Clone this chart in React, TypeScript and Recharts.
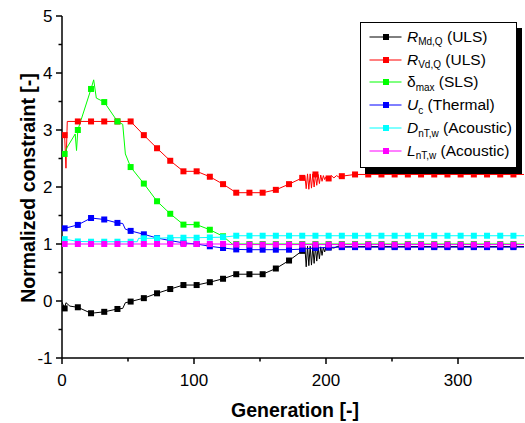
import { Legend, Line, LineChart, XAxis, YAxis } from 'recharts';

const FONT = 'Arial, "Liberation Sans", Helvetica, sans-serif';

// generations carrying a plotted marker (every 10th)
const markGens = [
  2, 12, 22, 32, 42, 52, 62, 72, 82, 92, 102, 112, 122, 132, 142, 152, 162, 172,
  182, 192, 202, 212, 222, 232, 242, 252, 262, 272, 282, 292, 302, 312, 322, 332, 342,
];

const rMdQ = [
  -0.13, -0.11, -0.215, -0.19, -0.14, -0.01, 0.05, 0.135, 0.21, 0.28, 0.28, 0.33, 0.39, 0.47, 0.47, 0.47, 0.57, 0.71,
  0.88, 0.95, 0.94, 0.95, 0.955, 0.955, 0.955, 0.955, 0.955, 0.955, 0.955, 0.955, 0.955, 0.955, 0.955, 0.955, 0.955,
];
const rVdQ = [
  2.91, 3.15, 3.15, 3.15, 3.15, 3.15, 2.91, 2.68, 2.46, 2.275, 2.275, 2.18, 2.05, 1.9, 1.9, 1.9, 1.95, 2.05,
  2.16, 2.22, 2.15, 2.19, 2.22, 2.22, 2.22, 2.22, 2.22, 2.22, 2.22, 2.22, 2.22, 2.22, 2.22, 2.22, 2.22,
];
const deltaMax = [
  2.58, 3.0, 3.72, 3.49, 3.15, 2.35, 2.06, 1.75, 1.53, 1.34, 1.34, 1.25, 1.135, 1.0, 1.0, 1.0, 1.0, 1.0,
  1.0, 1.0, 1.0, 1.0, 1.0, 1.0, 1.0, 1.0, 1.0, 1.0, 1.0, 1.0, 1.0, 1.0, 1.0, 1.0, 1.0,
];
const uC = [
  1.275, 1.335, 1.456, 1.43, 1.37, 1.23, 1.17, 1.105, 1.06, 1.02, 1.0, 0.96, 0.93, 0.905, 0.9, 0.9, 0.9, 0.9,
  0.91, 0.93, 0.94, 0.945, 0.945, 0.945, 0.945, 0.945, 0.945, 0.945, 0.945, 0.945, 0.945, 0.945, 0.945, 0.945, 0.945,
];
const dnTw = [
  1.085, 1.045, 1.04, 1.04, 1.04, 1.04, 1.1, 1.1, 1.11, 1.11, 1.11, 1.115, 1.12, 1.145, 1.145, 1.145, 1.145, 1.145,
  1.145, 1.145, 1.145, 1.145, 1.145, 1.145, 1.145, 1.145, 1.145, 1.145, 1.145, 1.145, 1.145, 1.145, 1.145, 1.145, 1.145,
];
const lnTw = [
  1.0, 1.0, 1.0, 1.0, 1.0, 1.0, 1.0, 1.0, 1.0, 1.0, 1.0, 1.0, 1.0, 0.99, 0.99, 0.99, 0.99, 0.99,
  0.99, 0.99, 0.99, 0.99, 0.99, 0.99, 0.99, 0.99, 0.99, 0.99, 0.99, 0.99, 0.99, 0.99, 0.99, 0.99, 0.99,
];

// in-between generations (no marker): start-up jumps and the oscillation near gen 185-200
const rMdQExtra: [number, number][] = [
  [0, -0.02], [3, -0.03], [6, -0.09], [46, -0.13], [48, -0.03],
  [184, 0.95], [185, 0.6], [186, 0.96], [187, 0.62], [188, 0.96], [189, 0.63], [190, 0.95], [191, 0.66],
  [193, 0.7], [194, 0.95], [195, 0.74], [196, 0.95], [197, 0.8], [198, 0.94], [199, 0.86], [200, 0.95],
  [206, 0.93], [209, 0.96], [350, 0.955],
];
const rVdQExtra: [number, number][] = [
  [0, 2.9], [3, 2.33], [4, 3.15],
  [184, 2.2], [185, 1.97], [186, 2.23], [187, 1.96], [188, 2.23], [189, 1.98], [190, 2.23], [191, 2.0],
  [193, 2.03], [194, 2.22], [195, 2.06], [196, 2.21], [197, 2.1], [198, 2.2], [199, 2.13], [200, 2.18],
  [204, 2.2], [206, 2.16], [208, 2.2], [210, 2.17], [350, 2.22],
];
const deltaMaxExtra: [number, number][] = [
  [0, 2.6], [4, 2.7], [10, 2.93], [11, 2.64], [24, 3.88], [26, 3.56], [46, 3.1], [48, 2.58], [129, 1.0], [350, 1.0],
];
const uCExtra: [number, number][] = [[0, 1.27], [46, 1.36], [48, 1.26], [350, 0.945]];
const dnTwExtra: [number, number][] = [[0, 1.09], [57, 1.04], [58, 1.1], [350, 1.145]];
const lnTwExtra: [number, number][] = [[0, 1.0], [350, 0.99]];

const yTicks = [-1, -0.5, 0, 0.5, 1, 1.5, 2, 2.5, 3, 3.5, 4, 4.5, 5];
const xTicks = [0, 50, 100, 150, 200, 250, 300];

type Pt = { gen: number; v: number; mark: boolean };

const buildSeries = (marks: number[], extra: [number, number][]): Pt[] =>
  [
    ...markGens.map((gen, i) => ({ gen, v: marks[i], mark: true })),
    ...extra.map(([gen, v]) => ({ gen, v, mark: false })),
  ].sort((a, b) => a.gen - b.gen);

const series = [
  { key: 'rmd', color: '#000000', data: buildSeries(rMdQ, rMdQExtra), sym: 'R', sub: 'Md,Q', tail: '(ULS)', italic: true },
  { key: 'rvd', color: '#ff0000', data: buildSeries(rVdQ, rVdQExtra), sym: 'R', sub: 'Vd,Q', tail: '(ULS)', italic: true },
  { key: 'dmax', color: '#00ff00', data: buildSeries(deltaMax, deltaMaxExtra), sym: 'δ', sub: 'max', tail: '(SLS)', italic: false },
  { key: 'uc', color: '#0000ff', data: buildSeries(uC, uCExtra), sym: 'U', sub: 'c', tail: '(Thermal)', italic: true },
  { key: 'dnt', color: '#00ffff', data: buildSeries(dnTw, dnTwExtra), sym: 'D', sub: 'nT,w', tail: '(Acoustic)', italic: true },
  { key: 'lnt', color: '#ff00ff', data: buildSeries(lnTw, lnTwExtra), sym: 'L', sub: 'nT,w', tail: '(Acoustic)', italic: true },
];

const squareDot = (color: string) => (props: any) => {
  const { cx, cy, payload, index } = props;
  if (!payload?.mark) return <g key={index} />;
  return <rect key={index} x={cx - 3} y={cy - 3} width={6} height={6} fill={color} />;
};

const YTick = ({ x, y, payload }: any) => {
  const major = Number.isInteger(payload.value);
  return (
    <g>
      <line x1={x - (major ? 6 : 3.5)} x2={x} y1={y} y2={y} stroke="#000" strokeWidth={1.5} />
      {major && (
        <text x={x - 9.5} y={y} textAnchor="end" dominantBaseline="central" fontSize={17} fontFamily={FONT} fill="#000">
          {payload.value}
        </text>
      )}
    </g>
  );
};

const XTick = ({ x, y, payload }: any) => {
  const major = payload.value % 100 === 0;
  return (
    <g>
      <line x1={x} x2={x} y1={y} y2={y + (major ? 6 : 3.5)} stroke="#000" strokeWidth={1.5} />
      {major && (
        <text x={x} y={y + 28} textAnchor="middle" fontSize={17} fontFamily={FONT} fill="#000">
          {payload.value}
        </text>
      )}
    </g>
  );
};

const LegendBox = () => (
  <div
    style={{
      position: 'relative',
      width: 155,
      height: 144,
      border: '1.5px solid #000',
      background: '#fff',
      boxShadow: '5px 6px 0 #000',
      fontFamily: FONT,
      fontSize: 15.5,
      color: '#000',
    }}
  >
    {series.map((s, i) => (
      <div
        key={s.key}
        style={{ position: 'absolute', left: 0, top: 2.3 + i * 22.85, height: 22.8, display: 'flex', alignItems: 'center', whiteSpace: 'nowrap' }}
      >
        <svg width={46} height={10} style={{ flex: 'none' }}>
          <line x1={8.5} x2={40.5} y1={5} y2={5} stroke={s.color} strokeWidth={1} />
          <rect x={22} y={2} width={6} height={6} fill={s.color} />
        </svg>
        <span style={{ fontStyle: s.italic ? 'italic' : 'normal' }}>{s.sym}</span>
        <span style={{ fontSize: 10, position: 'relative', top: 5 }}>{s.sub}</span>
        <span>&nbsp;{s.tail}</span>
      </div>
    ))}
  </div>
);

export default function App() {
  return (
    <div style={{ position: 'absolute', left: 0, top: 0, width: 525, height: 423, background: '#fff' }}>
      <LineChart width={525} height={423} margin={{ top: 16, right: 1, bottom: 0, left: 0 }}>
        <XAxis
          type="number"
          dataKey="gen"
          domain={[0, 350]}
          ticks={xTicks}
          interval={0}
          height={65}
          tickSize={0}
          tickMargin={0}
          tickLine={false}
          tick={<XTick />}
          axisLine={{ stroke: '#000', strokeWidth: 1.5 }}
          allowDataOverflow
        />
        <YAxis
          type="number"
          domain={[-1, 5]}
          ticks={yTicks}
          interval={0}
          width={62}
          tickSize={0}
          tickMargin={0}
          tickLine={false}
          tick={<YTick />}
          axisLine={{ stroke: '#000', strokeWidth: 1.5 }}
          allowDataOverflow
        />
        {series.map((s) => (
          <Line
            key={s.key}
            data={s.data}
            dataKey="v"
            type="linear"
            stroke={s.color}
            strokeWidth={1}
            dot={squareDot(s.color)}
            activeDot={false}
            isAnimationActive={false}
          />
        ))}
        <Legend
          layout="vertical"
          align="center"
          verticalAlign="middle"
          content={() => <LegendBox />}
          wrapperStyle={{ left: 360, top: 22, width: 'auto', height: 'auto' }}
        />
      </LineChart>
      <div
        style={{
          position: 'absolute',
          left: 295,
          top: 410,
          transform: 'translate(-50%, -50%)',
          fontFamily: FONT,
          fontWeight: 'bold',
          fontSize: 19.5,
          whiteSpace: 'nowrap',
        }}
      >
        Generation [-]
      </div>
      <div
        style={{
          position: 'absolute',
          left: 27.5,
          top: 188,
          transform: 'translate(-50%, -50%) rotate(-90deg)',
          fontFamily: FONT,
          fontWeight: 'bold',
          fontSize: 19.5,
          whiteSpace: 'nowrap',
        }}
      >
        Normalized constraint [-]
      </div>
    </div>
  );
}
